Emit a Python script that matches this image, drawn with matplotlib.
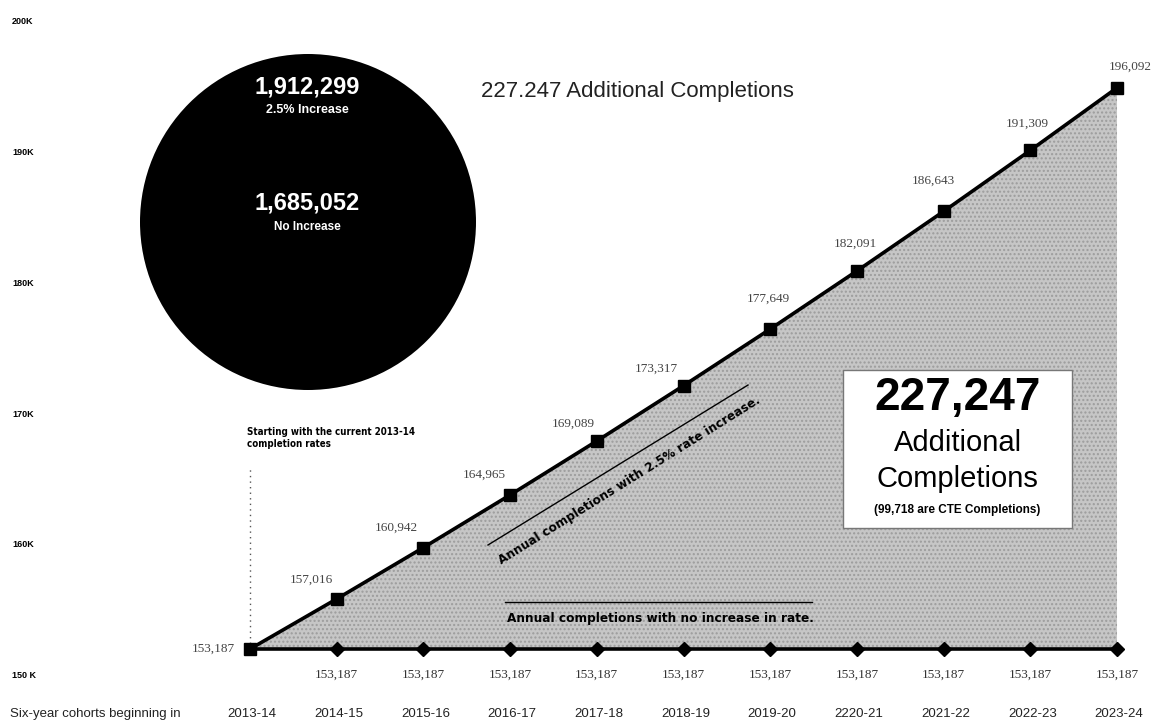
import matplotlib
matplotlib.use("Agg")
import matplotlib.pyplot as plt
from matplotlib.patches import Circle, Rectangle

# cohort years and completions
cohorts = ["2013-14", "2014-15", "2015-16", "2016-17", "2017-18", "2018-19",
           "2019-20", "2220-21", "2021-22", "2022-23", "2023-24"]
with_increase = [153187, 157016, 160942, 164965, 169089, 173317,
                 177649, 182091, 186643, 191309, 196092]
no_increase = [153187] * 11
ytick_vals = [150000, 160000, 170000, 180000, 190000, 200000]
ytick_labels = ["150 K", "160K", "170K", "180K", "190K", "200K"]

total_increase = "1,912,299"
total_flat = "1,685,052"
extra = "227,247"
extra_cte = "99,718"

# label offsets (pixels) for the values on the rising line
lab_off = [(-15, 0), (-25, 19), (-27, 20), (-26, 20), (-24, 17), (-27, 17),
           (-2, 30), (-2, 27), (-10, 31), (-3, 27), (13, 21)]

SANS = ["Liberation Sans", "DejaVu Sans"]
SERIF = ["Liberation Serif", "DejaVu Serif"]
COND = dict(family="DejaVu Sans", fontstretch="condensed", fontweight="bold")

fig = plt.figure(figsize=(11.51, 7.23), dpi=100)
ax = fig.add_axes([0, 0, 1, 1])
ax.set_xlim(-2.8835, 10.392)
ax.set_ylim(147530, 202805)
ax.axis("off")

x = list(range(len(cohorts)))

# shaded gap between the two scenarios
ax.fill_between(x, no_increase, with_increase, facecolor="#c6c6c6",
                edgecolor="#9c9c9c", hatch="....", linewidth=0, zorder=1)

ax.plot(x, no_increase, color="black", lw=2.6, zorder=3)
ax.plot(x[1:], no_increase[1:], ls="none", marker="D", ms=7.5,
        color="black", zorder=4)
ax.plot(x, with_increase, color="black", lw=2.6, marker="s", ms=8,
        zorder=5)

# value labels on the rising line
for i, v in enumerate(with_increase):
    dx, dy = lab_off[i]
    ax.annotate(f"{v:,}", (x[i], v), xytext=(dx, dy),
                textcoords="offset pixels",
                ha="right" if i == 0 else "center", va="center",
                fontsize=9.5, family=SERIF, color="#444444")

# values and years under the flat line
for i, v in enumerate(no_increase):
    if i > 0:
        ax.annotate(f"{v:,}", (x[i], v), xytext=(0, -26),
                    textcoords="offset pixels", ha="center", va="center",
                    fontsize=9.5, family=SERIF, color="#333333")
    ax.annotate(cohorts[i], (x[i], v), xytext=(2, -65),
                textcoords="offset pixels", ha="center", va="center",
                fontsize=9.5, family=SANS, color="#222222")

ax.text(10 / 1151, 9 / 723, "Six-year cohorts beginning in",
        transform=ax.transAxes, fontsize=9.5, family=SANS, color="#222222",
        va="center")

# y labels
for v, lab in zip(ytick_vals, ytick_labels):
    ax.annotate(lab, (12 / 1151, v), xycoords=("axes fraction", "data"),
                xytext=(0, 15), textcoords="offset pixels", va="center",
                fontsize=6.5, fontweight="bold", family=SANS)

# starting-point note and dotted guide
ax.plot([0, 0], [153187, 167100], color="#555555", lw=1, ls=(0, (1, 3)),
        zorder=2)
ax.text(-0.03, 168500, "Starting with the current 2013-14\ncompletion rates",
        fontsize=7, va="bottom", linespacing=1.2, **COND)

# guide lines with their captions
ax.plot([2.745, 5.744], [161138, 173370], color="black", lw=1, zorder=2)
ax.text(4.38, 166050, "Annual completions with 2.5% rate increase.",
        rotation=32, ha="center", va="center", fontsize=9.7, zorder=6,
        **COND)
ax.plot([2.941, 6.482], [153187 + 47 / 0.01308] * 2, color="black", lw=1,
        zorder=2)
ax.text(4.73, 153187 + 31 / 0.01308,
        "Annual completions with no increase in rate.", ha="center",
        va="center", fontsize=9.7, zorder=6, **COND)

ax.text(637 / 1151, 1 - 92 / 723, f"{extra.replace(',', '.')} Additional Completions",
        transform=ax.transAxes, ha="center", va="center", fontsize=16,
        family=SANS, color="#222222")

# totals box
bx0, by0, bx1, by1 = 843, 370, 1072, 528
ax.add_patch(Rectangle((bx0 / 1151, 1 - by1 / 723), (bx1 - bx0) / 1151,
                       (by1 - by0) / 723, transform=ax.transAxes,
                       facecolor="white", edgecolor="#777777", lw=1,
                       zorder=7))
bxc = (bx0 + bx1) / 2 / 1151
ax.text(bxc, 1 - 398 / 723, extra, transform=ax.transAxes, ha="center",
        va="center", fontsize=33, fontweight="bold", family=SANS, zorder=8)
ax.text(bxc, 1 - 443 / 723, "Additional", transform=ax.transAxes,
        ha="center", va="center", fontsize=21, family=SANS, zorder=8)
ax.text(bxc, 1 - 479 / 723, "Completions", transform=ax.transAxes,
        ha="center", va="center", fontsize=21, family=SANS, zorder=8)
ax.text(bxc, 1 - 510 / 723, f"({extra_cte} are CTE Completions)",
        transform=ax.transAxes, ha="center", va="center", fontsize=8.5,
        fontweight="bold", family=SANS, zorder=8)

# totals circle
ax.add_patch(Circle((3.08, 5.01), 1.68, transform=fig.dpi_scale_trans,
                    facecolor="black", edgecolor="none", zorder=7))
ccx = 307 / 1151
ax.text(ccx, 1 - 87 / 723, total_increase, transform=ax.transAxes,
        ha="center", va="center", fontsize=17, fontweight="bold",
        family=SANS, color="white", zorder=8)
ax.text(ccx, 1 - 110 / 723, "2.5% Increase", transform=ax.transAxes,
        ha="center", va="center", fontsize=9, fontweight="bold",
        family=SANS, color="white", zorder=8)
ax.text(ccx, 1 - 203 / 723, total_flat, transform=ax.transAxes,
        ha="center", va="center", fontsize=17, fontweight="bold",
        family=SANS, color="white", zorder=8)
ax.text(ccx, 1 - 227 / 723, "No Increase", transform=ax.transAxes,
        ha="center", va="center", fontsize=8.5, fontweight="bold",
        family=SANS, color="white", zorder=8)

fig.savefig("out.png", dpi=100)
